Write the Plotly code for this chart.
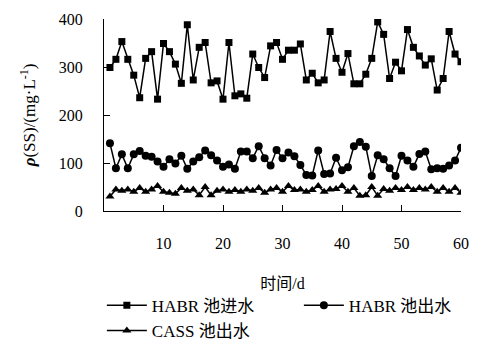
import plotly.graph_objects as go

days = list(range(1, 61))

habr_in = [299, 316, 353, 316, 283, 236, 318, 332, 233, 349,
           332, 306, 266, 388, 273, 341, 351, 267, 271, 233,
           351, 240, 244, 235, 327, 299, 278, 344, 351, 316,
           335, 335, 348, 273, 287, 267, 273, 374, 318, 289,
           328, 265, 265, 285, 318, 394, 368, 276, 310, 292,
           378, 341, 323, 304, 317, 252, 276, 374, 327, 311]

habr_out = [141, 89, 118, 89, 118, 125, 115, 113, 103, 92,
            108, 99, 115, 88, 103, 112, 126, 116, 105, 92,
            97, 88, 124, 124, 110, 135, 110, 95, 127, 110,
            122, 114, 96, 75, 74, 126, 77, 78, 111, 85,
            91, 135, 144, 134, 73, 116, 108, 89, 73, 115,
            105, 92, 119, 124, 87, 89, 88, 95, 105, 132]

cass_out = [30, 45, 42, 45, 40, 48, 40, 45, 52, 40,
            38, 36, 48, 42, 45, 33, 50, 33, 42, 45,
            40, 44, 40, 45, 42, 48, 38, 45, 48, 40,
            52, 44, 45, 40, 44, 52, 40, 45, 46, 52,
            40, 48, 32, 33, 50, 32, 46, 42, 48, 44,
            50, 44, 48, 45, 50, 40, 48, 40, 48, 38]

names = ["HABR 池进水", "HABR 池出水", "CASS 池出水"]
symbols = ["square", "circle", "triangle-up"]
series = [habr_in, habr_out, cass_out]
sizes = [7, 8, 8]

x_ticks = [10, 20, 30, 40, 50, 60]
y_ticks = [0, 100, 200, 300, 400]

FONT = "Liberation Serif, Times New Roman, Noto Sans CJK SC, serif"

fig = go.Figure()
for name, sym, ys, sz in zip(names, symbols, series, sizes):
    fig.add_trace(go.Scatter(
        x=days, y=ys, name=name, mode="lines+markers",
        line=dict(color="black", width=1.5),
        marker=dict(symbol=sym, size=sz, color="black"),
    ))

fig.update_layout(
    width=489, height=350,
    margin=dict(l=104, r=28, t=19, b=139, autoexpand=False),
    paper_bgcolor="white", plot_bgcolor="white",
    font=dict(family=FONT, size=16, color="black"),
    showlegend=True,
    legend=dict(
        orientation="h", x=-0.006, xanchor="left", y=-0.40, yanchor="top",
        font=dict(family=FONT, size=17, color="black"),
        itemwidth=40, entrywidth=142, entrywidthmode="pixels",
        tracegroupgap=0, itemsizing="trace",
    ),
)

fig.update_xaxes(
    range=[0, 60], tickvals=x_ticks, ticktext=[str(v) for v in x_ticks],
    showline=True, linecolor="black", linewidth=1, mirror=False,
    showgrid=False, zeroline=False, automargin=False,
    ticks="inside", ticklen=6, tickcolor="black",
    ticklabelstandoff=18,
    title=dict(text="时间/d", font=dict(family=FONT, size=16), standoff=26),
)
fig.update_yaxes(
    range=[0, 400], tickvals=y_ticks, ticktext=[str(v) for v in y_ticks],
    showline=True, linecolor="black", linewidth=1,
    showgrid=False, zeroline=False, automargin=False,
    ticks="inside", ticklen=6, tickcolor="black",
    ticklabelstandoff=17,
    title=dict(text="<b><i>ρ</i></b>(SS)/(mg·L<sup>-1</sup>)",
               font=dict(family=FONT, size=17), standoff=18),
)

fig.write_html(
    "out.html",
    config={"displayModeBar": False},
    post_script="document.body.style.margin='0px';document.body.style.overflow='hidden';",
)
